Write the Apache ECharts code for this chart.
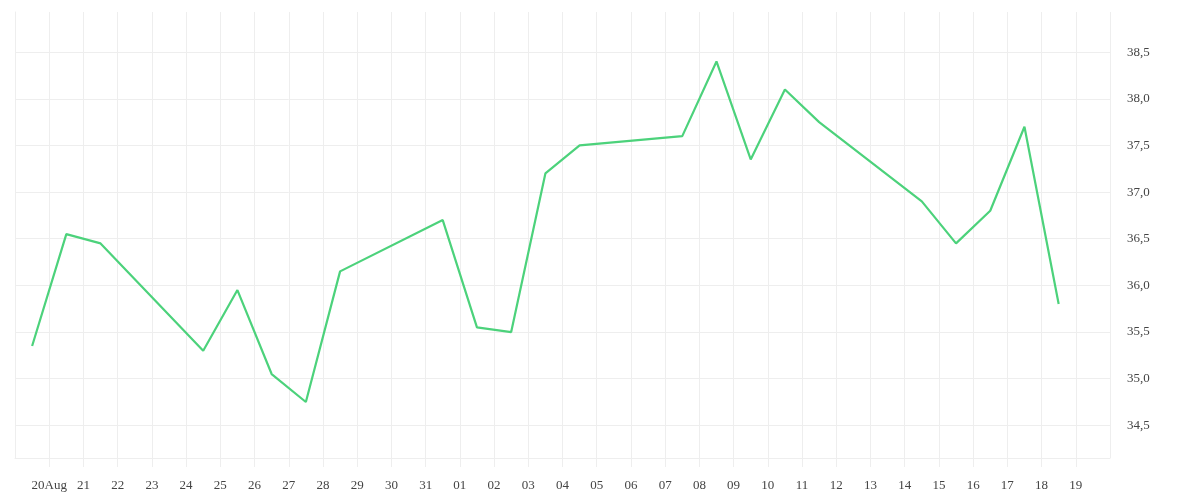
<!DOCTYPE html>
<html>
<head>
<meta charset="utf-8">
<script src="https://cdn.jsdelivr.net/npm/echarts@6/dist/echarts.min.js"></script>
<style>
html,body{margin:0;padding:0;background:#fff;}
#chart{width:1200px;height:500px;}
</style>
</head>
<body>
<div id="chart"></div>
<script>
// Trading days (2020) and values
const dates = [
  '2020-08-19','2020-08-20','2020-08-21',
  '2020-08-24','2020-08-25','2020-08-26','2020-08-27','2020-08-28',
  '2020-08-31','2020-09-01','2020-09-02','2020-09-03','2020-09-04',
  '2020-09-07','2020-09-08','2020-09-09','2020-09-10','2020-09-11',
  '2020-09-14','2020-09-15','2020-09-16','2020-09-17','2020-09-18'
];
const values = [
  35.35, 36.55, 36.45,
  35.30, 35.95, 35.05, 34.75, 36.15,
  36.70, 35.55, 35.50, 37.20, 37.50,
  37.60, 38.40, 37.35, 38.10, 37.75,
  36.90, 36.45, 36.80, 37.70, 35.80
];
const axisStart = '2020-08-19';
const axisEnd = '2020-09-20';
const monthNames = ['Jan','Feb','Mar','Apr','May','Jun','Jul','Aug','Sep','Oct','Nov','Dec'];
const firstLabeledDay = '2020-08-20';

const DAY = 86400000;
const t0 = Date.parse(axisStart + 'T00:00:00Z');
const dayCount = (Date.parse(axisEnd + 'T00:00:00Z') - t0) / DAY;
function dayIndex(d) { return (Date.parse(d + 'T00:00:00Z') - t0) / DAY; }
// each trading day is drawn at the middle of its day cell
const seriesData = dates.map((d, i) => [dayIndex(d) + 0.5, values[i]]);

const FONT = 'Liberation Serif';
const gridColor = '#eeeeee';
const textColor = '#444';

const chart = echarts.init(document.getElementById('chart'), null, {renderer: 'canvas'});
chart.setOption({
  animation: false,
  grid: {left: 15, right: 90, top: 12, bottom: 42, containLabel: false},
  xAxis: {
    type: 'value',
    min: 0,
    max: dayCount,
    interval: 1,
    axisLine: {show: true, lineStyle: {color: gridColor, width: 1}},
    axisTick: {show: true, length: 9, lineStyle: {color: gridColor}},
    splitLine: {show: true, lineStyle: {color: gridColor, width: 1}},
    axisLabel: {
      show: true,
      margin: 21,
      color: textColor,
      fontFamily: FONT,
      fontSize: 13,
      showMinLabel: false,
      showMaxLabel: false,
      formatter: function (v) {
        const dt = new Date(t0 + Math.round(v) * DAY);
        const dd = String(dt.getUTCDate()).padStart(2, '0');
        const iso = dt.toISOString().slice(0, 10);
        return iso === firstLabeledDay ? dd + monthNames[dt.getUTCMonth()] : dd;
      }
    }
  },
  yAxis: {
    type: 'value',
    position: 'right',
    min: 34.15,
    max: 38.93,
    splitNumber: 9,
    minInterval: 0.5,
    maxInterval: 0.5,
    axisLine: {show: true, lineStyle: {color: gridColor}},
    axisTick: {show: false},
    splitLine: {show: true, showMaxLine: false, lineStyle: {color: gridColor, width: 1}},
    axisLabel: {
      show: true,
      margin: 17,
      padding: [3, 0, 0, 0],
      color: textColor,
      fontFamily: FONT,
      fontSize: 13,
      showMinLabel: false,
      showMaxLabel: false,
      formatter: function (v) { return v.toFixed(1).replace('.', ','); }
    }
  },
  series: [{
    type: 'line',
    data: seriesData,
    symbol: 'none',
    lineStyle: {color: '#4cd27b', width: 2.2},
    itemStyle: {color: '#4cd27b'}
  }]
});
</script>
</body>
</html>
